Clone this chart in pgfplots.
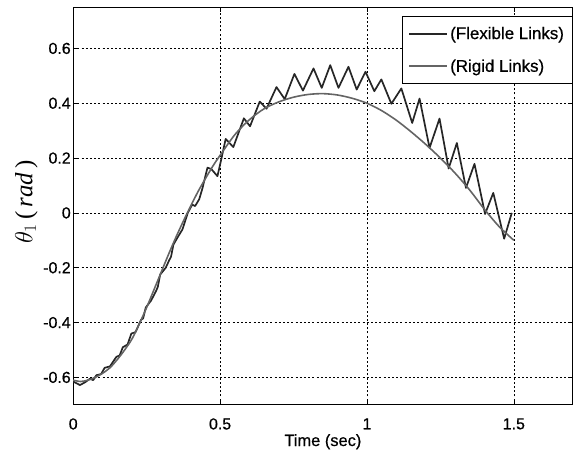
\documentclass[border=0pt]{standalone}
\usepackage{fontspec}
\setmainfont{Liberation Sans}[FakeBold=0.6]
\newfontfamily\serifit{Liberation Serif}
\usepackage{pgfplots}
\pgfplotsset{compat=1.18}
\definecolor{flexc}{RGB}{38,38,38}
\definecolor{rigc}{RGB}{100,100,100}
\begin{document}
\begin{tikzpicture}
\useasboundingbox (-73.3bp,-45bp) rectangle (500.4bp,405.3bp);
\begin{axis}[
  scale only axis,
  width=500bp, height=398bp,
  xmin=0, xmax=1.7, ymin=-0.7, ymax=0.75,
  xtick={0,0.5,1,1.5}, xticklabels={0,0.5,1,1.5},
  ytick={-0.6,-0.4,-0.2,0,0.2,0.4,0.6},
  yticklabels={-0.6,-0.4,-0.2,0,0.2,0.4,0.6},
  tick align=inside, major tick length=5bp,
  axis line style={black, line width=0.8pt},
  tick style={black, line width=0.6pt},
  grid=major,
  major grid style={black, line width=0.6pt, dash pattern=on 2bp off 2.2bp},
  tick label style={font=\fontsize{16}{16}\selectfont},
  xticklabel style={yshift=-10bp},
  yticklabel style={xshift=1bp},
  xlabel={Time (sec)},
  xlabel style={font=\fontsize{16.5}{17}\selectfont, at={(axis description cs:0.5,-0.093)}, anchor=center},
  ylabel={\fontsize{25}{27}\selectfont$\theta_1$\,{\serifit(\,\textit{rad}\,)}},
  ylabel style={at={(axis description cs:-0.094,0.51)}, anchor=center},
  legend style={at={(0.9995,0.977)}, anchor=north east, draw=black, line width=0.8pt,
    font=\fontsize{17}{17}\selectfont, inner xsep=6bp, inner ysep=8bp, row sep=15bp},
  legend cell align=left,
  legend image code/.code={\draw[#1, line width=2bp] (0bp,0bp) -- (38bp,0bp);},
]
\addplot[color=flexc, line width=1.7bp, line join=round] coordinates {
(0,-0.615) (0.023,-0.628) (0.04,-0.618) (0.057,-0.605) (0.068,-0.61)
(0.079,-0.592) (0.095,-0.588) (0.107,-0.565) (0.125,-0.56) (0.147,-0.525)
(0.158,-0.52) (0.169,-0.49) (0.185,-0.48) (0.198,-0.44) (0.212,-0.435)
(0.231,-0.39) (0.238,-0.385) (0.247,-0.345) (0.265,-0.32) (0.282,-0.285)
(0.288,-0.27) (0.296,-0.225) (0.315,-0.2) (0.327,-0.172) (0.333,-0.16)
(0.341,-0.116) (0.355,-0.09) (0.372,-0.06) (0.378,-0.04) (0.39,0.0)
(0.405,0.03) (0.415,0.025) (0.429,0.05) (0.44,0.09) (0.457,0.165)
(0.47,0.16) (0.491,0.134) (0.505,0.2) (0.519,0.27) (0.545,0.24)
(0.581,0.345) (0.602,0.316) (0.635,0.406) (0.658,0.38) (0.692,0.459)
(0.72,0.415) (0.753,0.507) (0.782,0.446) (0.818,0.527) (0.846,0.456)
(0.875,0.539) (0.903,0.456) (0.937,0.533) (0.965,0.45) (0.995,0.515)
(1.025,0.444) (1.049,0.487) (1.083,0.398) (1.117,0.454) (1.154,0.328)
(1.179,0.417) (1.213,0.237) (1.247,0.344) (1.278,0.162) (1.306,0.255)
(1.337,0.091) (1.366,0.179) (1.402,-0.004) (1.43,0.073) (1.467,-0.094)
(1.493,0.0)
};
\addlegendentry{(Flexible Links)}
\addplot[color=rigc, line width=1.6bp, smooth] coordinates {
(0,-0.61) (0.025,-0.615) (0.05,-0.61) (0.075,-0.6) (0.1,-0.585)
(0.125,-0.565) (0.15,-0.535) (0.175,-0.5) (0.2,-0.46) (0.225,-0.405)
(0.25,-0.345) (0.275,-0.28) (0.3,-0.215) (0.325,-0.15) (0.35,-0.088)
(0.375,-0.03) (0.4,0.025) (0.425,0.078) (0.45,0.125) (0.475,0.17)
(0.5,0.21) (0.55,0.285) (0.6,0.34) (0.65,0.38) (0.7,0.405)
(0.75,0.422) (0.8,0.432) (0.85,0.435) (0.9,0.43) (0.95,0.418)
(1.0,0.40) (1.05,0.373) (1.1,0.338) (1.15,0.296) (1.2,0.25)
(1.25,0.2) (1.3,0.145) (1.35,0.083) (1.4,0.013) (1.45,-0.05) (1.5,-0.10)
};
\addlegendentry{(Rigid Links)}
\end{axis}
\end{tikzpicture}
\end{document}
